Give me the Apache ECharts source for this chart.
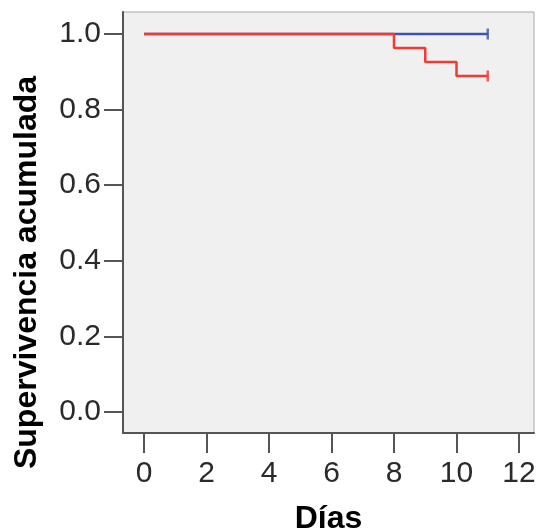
<!DOCTYPE html>
<html>
<head>
<meta charset="utf-8">
<script src="https://cdn.jsdelivr.net/npm/echarts@6/dist/echarts.min.js"></script>
<style>
html,body{margin:0;padding:0;background:#fff;}
#chart{width:538px;height:529px;}
</style>
</head>
<body>
<div id="chart"></div>
<script>
// Data (Kaplan-Meier steps)
var groupBlueDays = [0, 11];
var groupBlueSurv = [1.0, 1.0];
var groupBlueCensorDays = [11];
var groupBlueCensorSurv = [1.0];

var groupRedDays = [0, 8, 9, 10, 11];
var groupRedSurv = [1.0, 0.963, 0.926, 0.889, 0.889];
var groupRedCensorDays = [11];
var groupRedCensorSurv = [0.889];

var xTicks = [0, 2, 4, 6, 8, 10, 12];
var yTicks = [0.0, 0.2, 0.4, 0.6, 0.8, 1.0];

var xTitle = 'Días';
var yTitle = 'Supervivencia acumulada';

function zip(a, b) { return a.map(function (v, i) { return [v, b[i]]; }); }

var chart = echarts.init(document.getElementById('chart'), null, {renderer: 'canvas'});
var FONT = '"Liberation Sans", Arial, sans-serif';

chart.setOption({
  animation: false,
  backgroundColor: '#ffffff',
  grid: {
    left: 123, right: 4, top: 12, bottom: 96,
    containLabel: false,
    outerBoundsMode: 'none',
    show: true,
    backgroundColor: '#f0f0f0',
    borderColor: '#a8a8a8',
    borderWidth: 1
  },
  xAxis: {
    type: 'value',
    min: -0.672, max: 12.48,
    splitLine: {show: false},
    axisLine: {show: true, onZero: false, lineStyle: {color: '#555555', width: 2}},
    axisTick: {show: true, length: 20, customValues: xTicks, lineStyle: {color: '#555555', width: 2}},
    axisLabel: {
      customValues: xTicks, margin: 26,
      fontFamily: FONT, fontSize: 30, color: '#2a2a2a'
    },
    name: xTitle,
    nameLocation: 'middle',
    nameGap: 70,
    nameTextStyle: {fontFamily: FONT, fontSize: 32, fontWeight: 'bold', color: '#000000'}
  },
  yAxis: {
    type: 'value',
    min: -0.0556, max: 1.0582,
    splitLine: {show: false},
    axisLine: {show: true, onZero: false, lineStyle: {color: '#555555', width: 2}},
    axisTick: {show: true, length: 19, customValues: yTicks, lineStyle: {color: '#555555', width: 2}},
    axisLabel: {
      customValues: yTicks, margin: 22,
      fontFamily: FONT, fontSize: 30, color: '#2a2a2a',
      formatter: function (v) { return Number(v).toFixed(1); }
    },
    name: yTitle,
    nameLocation: 'middle',
    nameGap: 80,
    nameRotate: 90,
    nameTextStyle: {fontFamily: FONT, fontSize: 32, fontWeight: 'bold', color: '#000000', padding: [0, 100, 0, 0]}
  },
  series: [
    {
      type: 'line', step: 'end', showSymbol: false,
      data: zip(groupBlueDays, groupBlueSurv),
      lineStyle: {color: '#3e54a8', width: 2.5},
      itemStyle: {color: '#3e54a8'}
    },
    {
      type: 'scatter', symbol: 'rect', symbolSize: [2.5, 11],
      data: zip(groupBlueCensorDays, groupBlueCensorSurv),
      itemStyle: {color: '#3e54a8'}
    },
    {
      type: 'line', step: 'end', showSymbol: false,
      data: zip(groupRedDays, groupRedSurv),
      lineStyle: {color: '#f03a36', width: 2.5},
      itemStyle: {color: '#f03a36'}
    },
    {
      type: 'scatter', symbol: 'rect', symbolSize: [2.5, 11],
      data: zip(groupRedCensorDays, groupRedCensorSurv),
      itemStyle: {color: '#f03a36'}
    }
  ]
});
</script>
</body>
</html>
